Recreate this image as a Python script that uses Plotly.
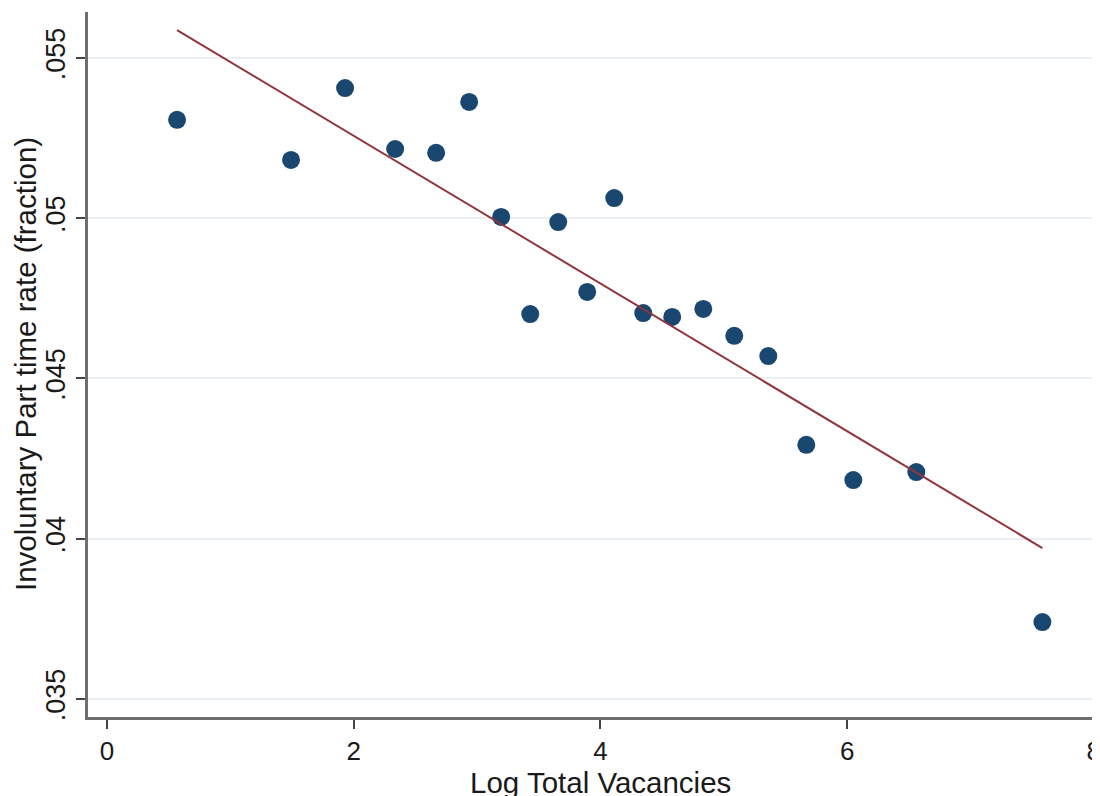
import plotly.graph_objects as go

# Data
log_vacancies = [0.568, 1.492, 1.930, 2.336, 2.668, 2.936, 3.195, 3.431, 3.658, 3.893,
                 4.112, 4.347, 4.582, 4.834, 5.085, 5.361, 5.669, 6.050, 6.561, 7.583]
inv_pt_rate = [0.05307, 0.05182, 0.05406, 0.05216, 0.05204, 0.05363, 0.05004, 0.04701,
               0.04988, 0.04770, 0.05063, 0.04704, 0.04692, 0.04717, 0.04633, 0.04570,
               0.04293, 0.04183, 0.04208, 0.03740]
fit_x = [0.568, 7.583]
fit_y = [0.05587, 0.03971]

x_ticks = [0, 2, 4, 6, 8]
x_ticktext = ["0", "2", "4", "6", "8"]
y_ticks = [0.035, 0.04, 0.045, 0.05, 0.055]
y_ticktext = [".035", ".04", ".045", ".05", ".055"]

FONT = "Liberation Sans, Arial, sans-serif"

# the page body adds an 8px offset; plot area is placed to match the reference
PLOT_W, PLOT_H = 1012, 705

fig = go.Figure()
fig.add_trace(go.Scatter(
    x=log_vacancies, y=inv_pt_rate, mode="markers",
    marker=dict(color="#1a476f", size=18, line=dict(width=0)),
    showlegend=False, hoverinfo="x+y"))
fig.add_trace(go.Scatter(
    x=fit_x, y=fit_y, mode="lines",
    line=dict(color="#90353b", width=2),
    showlegend=False))

fig.update_layout(
    width=1092, height=788,
    margin=dict(l=80, r=0, t=4, b=79),
    paper_bgcolor="white", plot_bgcolor="white",
    font=dict(family=FONT, color="#1a1a1a"),
    xaxis=dict(
        range=[-0.154, 8.05], tickvals=x_ticks, ticktext=x_ticktext,
        showgrid=False, zeroline=False,
        showline=True, linecolor="#6e6e6e", linewidth=2.5,
        ticks="outside", ticklen=9, tickwidth=2, tickcolor="#444",
        tickfont=dict(size=26, family=FONT, color="#1a1a1a"),
        ticklabelstandoff=0, ticklabeloverflow="allow",
    ),
    yaxis=dict(
        range=[0.034438, 0.056435], tickvals=y_ticks, ticktext=y_ticktext,
        showgrid=True, gridcolor="#e9eff3", gridwidth=2, zeroline=False,
        showline=True, linecolor="#6e6e6e", linewidth=2.5,
        ticks="outside", ticklen=9, tickwidth=2, tickcolor="#444",
        tickangle=-90,
        tickfont=dict(size=27, family=FONT, color="#1a1a1a"),
    ),
    annotations=[
        dict(text="Log Total Vacancies", xref="paper", yref="paper",
             x=(600 - 88) / PLOT_W, y=-(783 - 717) / PLOT_H,
             xanchor="center", yanchor="middle",
             showarrow=False, font=dict(size=29.5, family=FONT, color="#1a1a1a")),
        dict(text="Involuntary Part time rate (fraction)", xref="paper", yref="paper",
             x=-(88 - 25) / PLOT_W, y=(717 - 364) / PLOT_H,
             xanchor="center", yanchor="middle",
             textangle=-90, showarrow=False,
             font=dict(size=29.5, family=FONT, color="#1a1a1a")),
    ],
)

fig.write_html("out.html")
